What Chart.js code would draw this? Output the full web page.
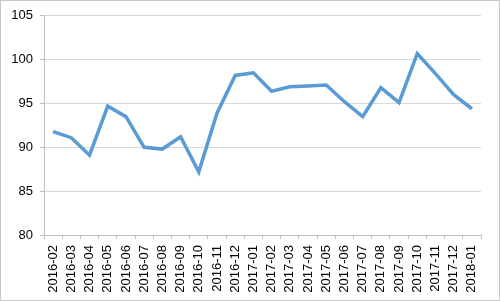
<!DOCTYPE html>
<html lang="en">
<head>
  <meta charset="UTF-8">
  <title>Index chart</title>
  <script src="https://cdn.jsdelivr.net/npm/chart.js"></script>
  <style>
    html, body { margin: 0; padding: 0; background: #fff; }
    .frame { width: 500px; height: 301px; box-sizing: border-box; border: 1px solid #c8c8c8; }
    canvas { display: block; }
  </style>
</head>
<body>
  <div class="frame">
    <canvas id="lineChart" width="498" height="299"></canvas>
  </div>

  <script>
    // data
    const months = ['2016-02', '2016-03', '2016-04', '2016-05', '2016-06', '2016-07', '2016-08', '2016-09',
      '2016-10', '2016-11', '2016-12', '2017-01', '2017-02', '2017-03', '2017-04', '2017-05',
      '2017-06', '2017-07', '2017-08', '2017-09', '2017-10', '2017-11', '2017-12', '2018-01'];
    const values = [91.8, 91.1, 89.1, 94.7, 93.5, 90.0, 89.8, 91.2,
      87.2, 93.9, 98.2, 98.5, 96.4, 96.9, 97.0, 97.1,
      95.2, 93.5, 96.8, 95.1, 100.7, 98.4, 96.0, 94.4];
    const yMin = 80, yMax = 105, yStep = 5;

    const ctx = document.getElementById('lineChart').getContext('2d');
    const lineChart = new Chart(ctx, {
      type: 'line',
      data: {
        labels: months,
        datasets: [{
          data: values,
          borderColor: '#5b9bd5',
          borderWidth: 3.5,
          pointRadius: 0,
          tension: 0,
          fill: false
        }]
      },
      options: {
        responsive: false,
        animation: false,
        layout: { padding: { top: 8, right: 18, bottom: 0, left: 0 } },
        plugins: {
          legend: { display: false },
          tooltip: { enabled: false }
        },
        scales: {
          x: {
            offset: true,
            grid: { offset: true, drawOnChartArea: false, tickLength: 4, color: '#bfbfbf' },
            border: { color: '#bfbfbf' },
            ticks: {
              autoSkip: false,
              maxRotation: 90,
              minRotation: 90,
              padding: 6,
              color: '#000',
              font: { family: 'Liberation Sans', size: 13 }
            },
            afterFit: function(scale) { scale.height = 65; }
          },
          y: {
            min: yMin,
            max: yMax,
            ticks: {
              stepSize: yStep,
              padding: 7,
              color: '#000',
              font: { family: 'Liberation Sans', size: 13 }
            },
            grid: { color: '#d9d9d9', tickLength: 4, tickColor: '#bfbfbf' },
            border: { color: '#bfbfbf' },
            afterFit: function(scale) { scale.width = 43; }
          }
        }
      }
    });
  </script>
</body>
</html>
